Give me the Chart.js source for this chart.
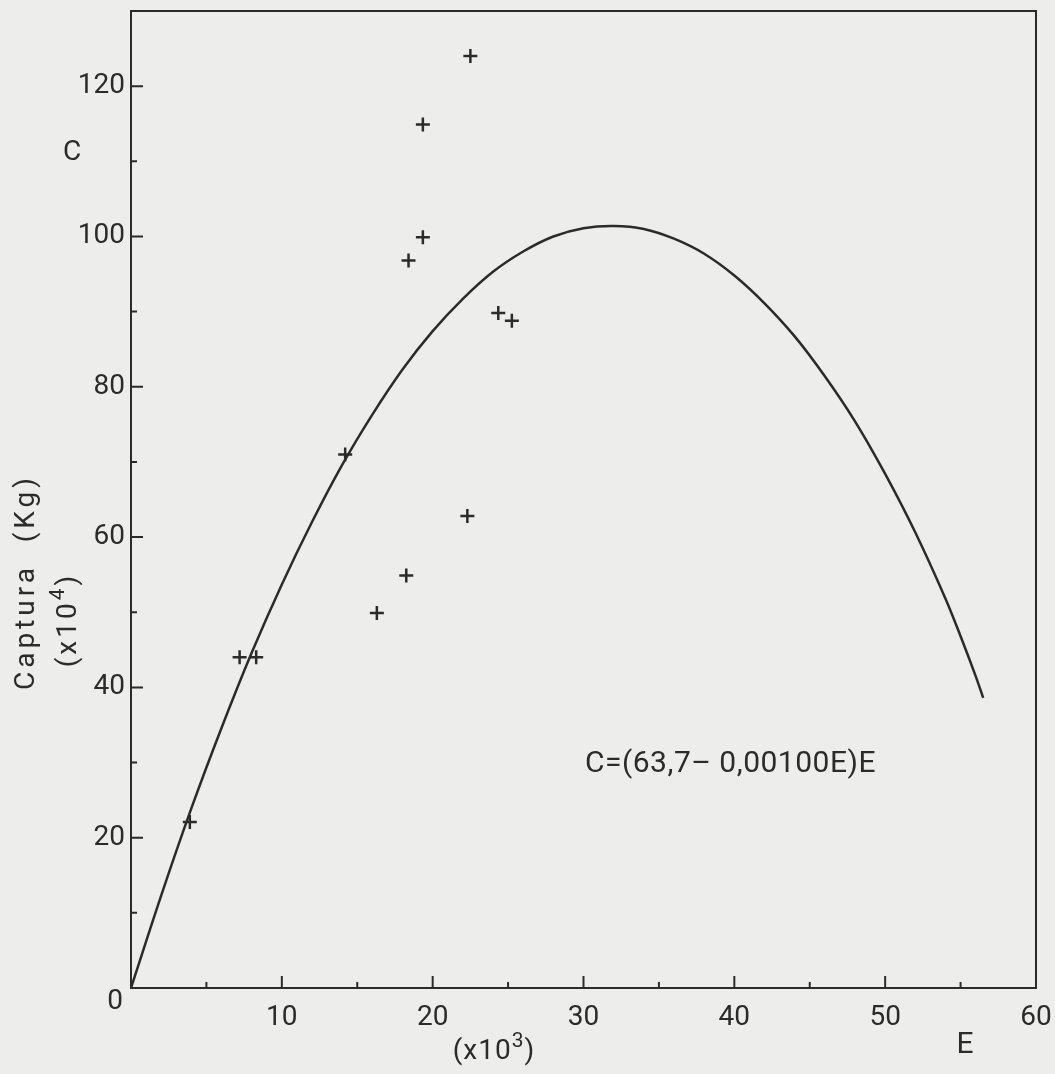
<!DOCTYPE html>
<html>
<head>
<meta charset="utf-8">
<script src="https://cdn.jsdelivr.net/npm/chart.js@4/dist/chart.umd.min.js"></script>
<style>
html,body{margin:0;padding:0;background:#ededeb;}
#wrap{width:1055px;height:1074px;}
</style>
</head>
<body>
<div id="wrap"><canvas id="c" width="1055" height="1074"></canvas></div>
<script>
// Fitted curve C = (63,7 - 0,00100E)E (E in 10^3, C in 10^4 kg)
const curveE = [0, 2, 4, 6, 8, 10, 12, 14, 16, 18, 20, 22, 24, 26, 28, 30, 32, 34, 36, 38, 40, 42, 44, 46, 48, 50, 52, 54, 55, 56, 56.5];
const curveC = [0, 12.3, 23.9, 34.6, 44.6, 53.7, 62.0, 69.6, 76.3, 82.3, 87.4, 91.7, 95.3, 98.0, 100.0, 101.1, 101.4, 101.0, 99.7, 97.7, 94.8, 91.1, 86.7, 81.4, 75.4, 68.4, 60.6, 51.8, 46.8, 41.5, 38.6];
// Observed points (+)
const pointsE = [3.9, 7.2, 8.3, 14.2, 16.3, 18.25, 18.4, 19.35, 19.35, 22.3, 22.5, 24.35, 25.25];
const pointsC = [22.1, 44.0, 44.0, 71.0, 49.9, 54.9, 96.8, 114.9, 99.9, 62.8, 124.0, 89.8, 88.8];
// Axis ticks
const xTicks = [10, 20, 30, 40, 50, 60];
const yTicks = [20, 40, 60, 80, 100, 120];
const xMinor = [5, 15, 25, 35, 45, 55];
const yMinor = [10, 30, 50, 70, 90, 110];

const INK = '#2b2b2b';
const FONT = 'Roboto, "DejaVu Sans", sans-serif';

const decor = {
  id: 'decor',
  beforeDraw(chart) {
    const ctx = chart.ctx;
    ctx.save();
    ctx.fillStyle = '#ededeb';
    ctx.fillRect(0, 0, chart.width, chart.height);
    ctx.restore();
  },
  afterDraw(chart) {
    const ctx = chart.ctx;
    const a = chart.chartArea;
    const xs = chart.scales.x, ys = chart.scales.y;
    ctx.save();
    ctx.strokeStyle = INK;
    ctx.lineWidth = 2;
    ctx.strokeRect(a.left, a.top, a.right - a.left, a.bottom - a.top);
    ctx.beginPath();
    xTicks.slice(0, -1).forEach(v => { const p = xs.getPixelForValue(v); ctx.moveTo(p, a.bottom); ctx.lineTo(p, a.bottom - 12); });
    xMinor.forEach(v => { const p = xs.getPixelForValue(v); ctx.moveTo(p, a.bottom); ctx.lineTo(p, a.bottom - 6); });
    yTicks.forEach(v => { const p = ys.getPixelForValue(v); ctx.moveTo(a.left, p); ctx.lineTo(a.left + 12, p); });
    yMinor.forEach(v => { const p = ys.getPixelForValue(v); ctx.moveTo(a.left, p); ctx.lineTo(a.left + 6, p); });
    ctx.stroke();

    ctx.fillStyle = INK;
    ctx.textBaseline = 'middle';
    ctx.textAlign = 'center';
    ctx.font = '28px ' + FONT;
    ctx.fillText('0', 115, 1002);
    ctx.fillText('C', 72, 153);
    ctx.font = '30px ' + FONT;
    ctx.fillText('E', 965, 1045);

    // superscript helper
    function sup(x, y, base, exp, tail, size, spacing) {
      ctx.textAlign = 'left';
      ctx.letterSpacing = spacing + 'px';
      ctx.font = size + 'px ' + FONT;
      const w1 = ctx.measureText(base).width;
      ctx.font = Math.round(size * 0.75) + 'px ' + FONT;
      const w2 = ctx.measureText(exp).width;
      ctx.font = size + 'px ' + FONT;
      const w3 = ctx.measureText(tail).width;
      const total = w1 + w2 + w3;
      let cx = x - total / 2;
      ctx.fillText(base, cx, y);
      cx += w1;
      ctx.font = Math.round(size * 0.75) + 'px ' + FONT;
      ctx.fillText(exp, cx, y - size * 0.38);
      cx += w2;
      ctx.font = size + 'px ' + FONT;
      ctx.fillText(tail, cx, y);
      ctx.letterSpacing = '0px';
    }
    sup(494, 1052, '(x10', '3', ')', 28, 1);

    // y axis title
    ctx.save();
    ctx.translate(27, 582);
    ctx.rotate(-Math.PI / 2);
    ctx.textAlign = 'center';
    ctx.letterSpacing = '4px';
    ctx.font = '28px ' + FONT;
    ctx.fillText('Captura  (Kg)', 0, 0);
    ctx.letterSpacing = '0px';
    ctx.restore();
    ctx.save();
    ctx.translate(69, 620);
    ctx.rotate(-Math.PI / 2);
    sup(0, 0, '(x10', '4', ')', 28, 3);
    ctx.restore();

    // equation
    ctx.textAlign = 'left';
    ctx.font = '30px ' + FONT;
    ctx.letterSpacing = '0.5px';
    ctx.fillText('C=(63,7\u2013 0,00100E)E', 585, 764);
    ctx.letterSpacing = '0px';
    ctx.restore();
  }
};

const curveData = curveE.map((e, i) => ({ x: e, y: curveC[i] }));
const pointData = pointsE.map((e, i) => ({ x: e, y: pointsC[i] }));

new Chart(document.getElementById('c'), {
  type: 'scatter',
  data: {
    datasets: [
      { data: curveData, showLine: true, tension: 0.35, borderColor: INK, borderWidth: 2.5, pointRadius: 0, fill: false },
      { data: pointData, pointStyle: 'cross', pointRadius: 7, borderWidth: 2.5, borderColor: INK, backgroundColor: INK }
    ]
  },
  options: {
    responsive: false,
    animation: false,
    devicePixelRatio: 1,
    layout: { padding: { left: 0, right: 19, top: 11, bottom: 0 } },
    plugins: { legend: { display: false }, tooltip: { enabled: false } },
    scales: {
      x: {
        type: 'linear', min: 0, max: 60,
        grid: { display: false, drawTicks: false },
        border: { display: false },
        ticks: { stepSize: 10, padding: 13, color: INK, font: { family: FONT, size: 28 }, maxRotation: 0,
          callback: v => xTicks.includes(v) ? String(v) : '' },
        afterFit: s => { s.height = 86; s.paddingLeft = 0; s.paddingRight = 0; }
      },
      y: {
        type: 'linear', min: 0, max: 130,
        grid: { display: false, drawTicks: false },
        border: { display: false },
        ticks: { stepSize: 20, padding: 6, color: INK, font: { family: FONT, size: 28 },
          callback: v => yTicks.includes(v) ? String(v) : '' },
        afterFit: s => { s.width = 131; s.paddingTop = 0; s.paddingBottom = 0; }
      }
    }
  },
  plugins: [decor]
});
</script>
</body>
</html>
